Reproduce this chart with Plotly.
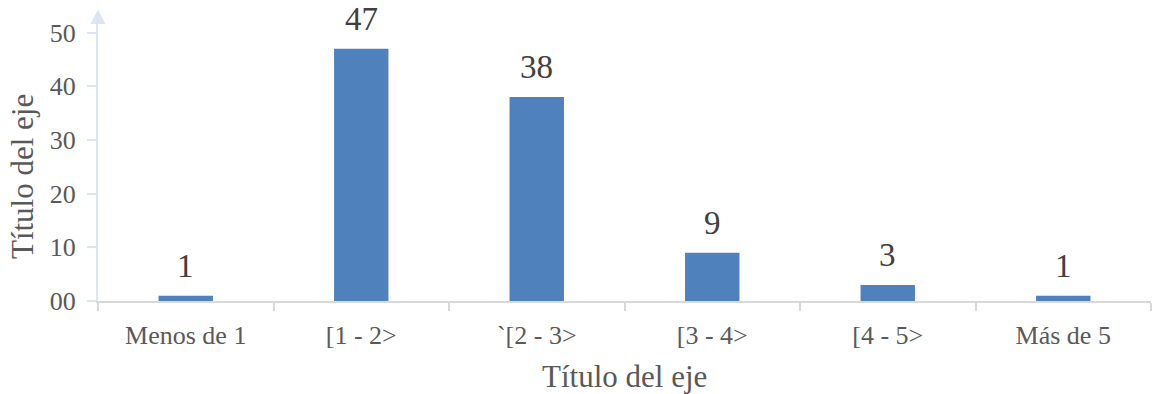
import plotly.graph_objects as go

# Frequency per range
categories = ["Menos de 1", "[1 - 2>", "`[2 - 3>", "[3 - 4>", "[4 - 5>", "Más de 5"]
values = [1, 47, 38, 9, 3, 1]

y_tickvals = [0, 10, 20, 30, 40, 50]
y_ticktext = ["00", "10", "20", "30", "40", "50"]
axis_title = "Título del eje"

FONT = "Liberation Serif, Times New Roman, serif"
BAR = "#4F81BD"

fig = go.Figure()
fig.add_trace(go.Bar(
    x=categories, y=values,
    marker=dict(color=BAR, line=dict(width=0)),
    width=0.31,
    hoverinfo="x+y",
))

# value labels above each bar
for c, v in zip(categories, values):
    fig.add_annotation(
        x=c, y=v, xref="x", yref="y", text=str(v), showarrow=False,
        yanchor="bottom", yshift=10,
        font=dict(family=FONT, size=33, color="#404040"),
    )

# axis titles
fig.add_annotation(
    x=0.5, xref="paper", y=-0.272, yref="paper", text=axis_title,
    showarrow=False, yanchor="middle", xanchor="center",
    font=dict(family=FONT, size=31, color="#595959"),
)
fig.add_annotation(
    x=-0.0715, xref="paper", y=0.45, yref="paper", text=axis_title,
    showarrow=False, textangle=-90, xanchor="center", yanchor="middle",
    font=dict(family=FONT, size=31, color="#595959"),
)

# arrow head on top of the value axis
fig.add_shape(
    type="path", xref="paper", yref="paper",
    path="M -0.0072 1 L 0.0072 1 L 0 1.052 Z",
    fillcolor="#DCE6F2", line=dict(width=0),
)

y_top = 51.6
fig.update_layout(
    width=1152, height=394,
    margin=dict(l=98, r=1, t=24, b=92.5),
    paper_bgcolor="white", plot_bgcolor="white",
    showlegend=False,
    bargap=0.69,
    font=dict(family=FONT, color="#595959"),
    xaxis=dict(
        type="category", tickson="boundaries",
        showline=True, linecolor="#D9D9D9", linewidth=2,
        ticks="outside", ticklen=8, tickcolor="#D9D9D9", tickwidth=2,
        tickfont=dict(family=FONT, size=26, color="#595959"),
        ticklabelstandoff=10,
        showgrid=False, zeroline=False,
    ),
    yaxis=dict(
        range=[0, y_top], tickvals=y_tickvals, ticktext=y_ticktext,
        showline=True, linecolor="#DCE6F2", linewidth=2,
        ticks="outside", ticklen=9, tickcolor="#DCE6F2", tickwidth=2,
        tickfont=dict(family=FONT, size=26, color="#595959"),
        ticklabelstandoff=6,
        showgrid=False, zeroline=False,
    ),
    yaxis2=dict(
        overlaying="y", matches="y", range=[0, y_top], tickvals=y_tickvals,
        ticks="inside", ticklen=9, tickcolor="#DCE6F2", tickwidth=2,
        showticklabels=False, showgrid=False, zeroline=False, showline=False,
    ),
)

fig.write_html("out.html")
